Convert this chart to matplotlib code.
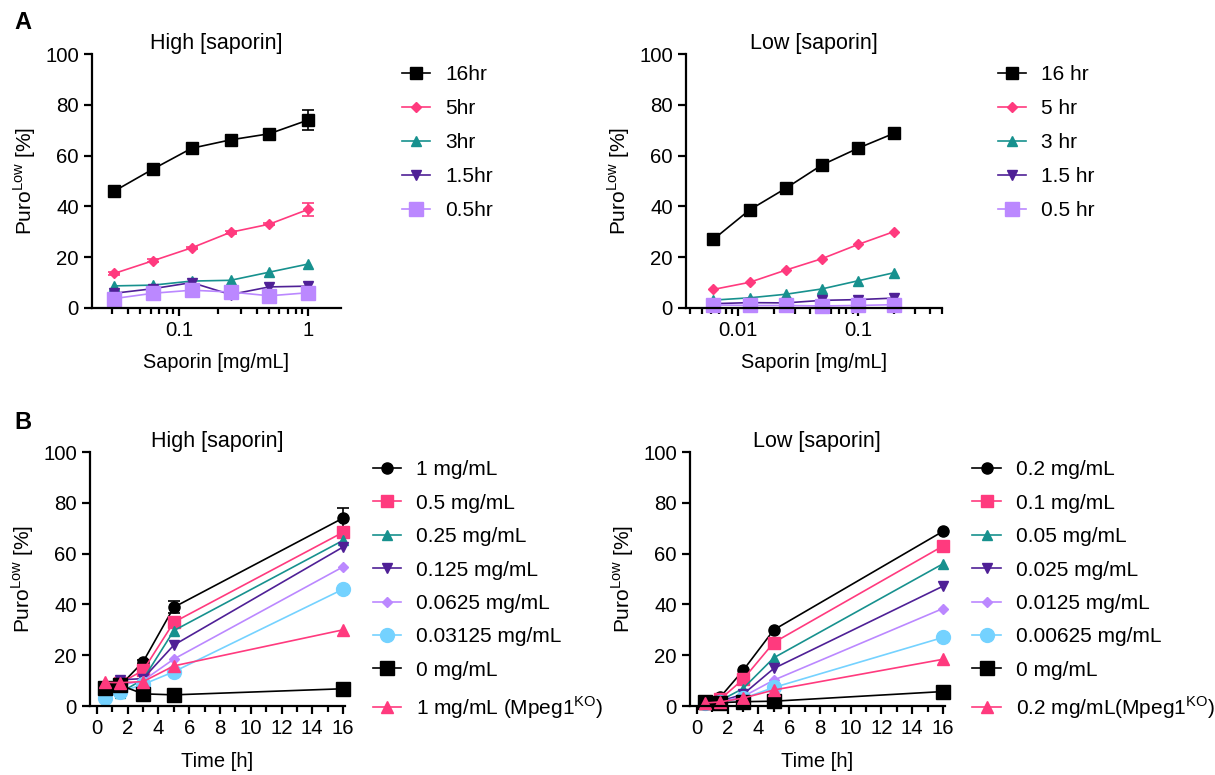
import matplotlib
matplotlib.use('Agg')
import matplotlib.pyplot as plt
from matplotlib.ticker import LogLocator, NullFormatter, FixedLocator, MultipleLocator

plt.rcParams['font.family'] = ['Liberation Sans', 'DejaVu Sans']
plt.rcParams['mathtext.fontset'] = 'custom'
plt.rcParams['mathtext.rm'] = 'Liberation Sans'
plt.rcParams['font.size'] = 15


# Panel A data: dose response per incubation time
high_dose = [0.03125, 0.0625, 0.125, 0.25, 0.5, 1]
low_dose = [0.00625, 0.0125, 0.025, 0.05, 0.1, 0.2]

high_16hr = [46.0, 54.7, 62.9, 66.2, 68.6, 74.0]
high_16hr_err = [0.8, 0.8, 0.8, 2.0, 0.8, 3.8]
high_5hr = [13.6, 18.6, 23.7, 29.8, 33.0, 38.8]
high_5hr_err = [0.5, 0.5, 0.5, 0.6, 0.5, 2.5]
high_3hr = [8.7, 9.0, 10.6, 10.9, 14.1, 17.3]
high_1_5hr = [5.8, 7.6, 10.0, 5.3, 8.3, 8.6]
high_0_5hr = [3.7, 5.8, 7.0, 6.3, 4.8, 6.0]

low_16hr = [27.0, 38.6, 47.1, 56.3, 62.9, 68.8]
low_5hr = [7.3, 10.1, 14.9, 19.4, 25.0, 30.1]
low_3hr = [3.1, 4.0, 5.4, 7.5, 10.7, 13.9]
low_1_5hr = [1.7, 2.1, 2.0, 3.0, 3.3, 3.9]
low_0_5hr = [1.2, 1.0, 1.0, 0.8, 1.0, 1.3]

# Panel B data: time course per saporin concentration
time_h = [0.5, 1.5, 3, 5, 16]

high_1 = [6.3, 8.0, 17.4, 38.9, 74.0]
high_1_err = [0.8, 0.8, 0.8, 2.4, 3.8]
high_0_5 = [5.2, 9.0, 14.0, 33.0, 68.4]
high_0_25 = [6.0, 5.2, 10.5, 29.7, 65.2]
high_0_125 = [7.2, 10.3, 10.8, 24.0, 62.6]
high_0_0625 = [6.0, 8.2, 10.0, 18.5, 54.8]
high_0_03125 = [3.3, 5.5, 8.5, 13.5, 46.0]
high_0 = [7.0, 8.2, 4.8, 4.4, 6.8]
high_ko = [9.3, 9.2, 9.6, 15.8, 30.0]

low_0_2 = [1.4, 3.4, 14.0, 30.0, 68.8]
low_0_1 = [1.3, 2.6, 10.5, 25.0, 63.0]
low_0_05 = [1.3, 2.1, 6.9, 19.0, 56.0]
low_0_025 = [1.2, 1.9, 4.6, 14.8, 47.2]
low_0_0125 = [1.2, 1.7, 3.7, 10.2, 38.4]
low_0_00625 = [1.2, 1.4, 3.0, 7.3, 27.0]
low_0 = [1.4, 1.3, 1.7, 1.9, 5.7]
low_ko = [1.2, 1.6, 3.1, 6.3, 18.4]

BLACK = '#000000'
PINK = '#ff3a7e'
TEAL = '#17918e'
PURPLE = '#4f2096'
LAVENDER = '#bb88ff'
LIGHTBLUE = '#74d2ff'

ylab = 'Puro$^{\\rm Low}$ [%]'


def style_axis(ax):
    for s in ['top', 'right']:
        ax.spines[s].set_visible(False)
    for s in ['left', 'bottom']:
        ax.spines[s].set_linewidth(1.6)
    ax.tick_params(which='major', length=6, width=1.6, labelsize=14.7)
    ax.tick_params(which='minor', length=4.5, width=1.6)
    ax.set_ylim(0, 100)
    ax.set_yticks([0, 20, 40, 60, 80, 100])
    ax.set_ylabel(ylab, fontsize=15, labelpad=5)


def plot_series(ax, x, y, color, marker, ms, label, err=None):
    if err is not None:
        ax.errorbar(x, y, yerr=err, fmt='none', ecolor=color, capsize=4,
                    elinewidth=1.2, capthick=1.2, clip_on=False)
    ax.plot(x, y, color=color, marker=marker, markersize=ms,
            linewidth=1.2, label=label, clip_on=False)


fig = plt.figure(figsize=(12.15, 7.75), dpi=100)

ax1 = fig.add_axes([0.0757, 0.6026, 0.2049, 0.3277])
ax2 = fig.add_axes([0.5646, 0.6026, 0.2107, 0.3277])
ax3 = fig.add_axes([0.0741, 0.0890, 0.2095, 0.3277])
ax4 = fig.add_axes([0.5679, 0.0890, 0.2095, 0.3277])

# Panel A, high saporin
plot_series(ax1, high_dose, high_16hr, BLACK, 's', 9, '16hr', high_16hr_err)
plot_series(ax1, high_dose, high_5hr, PINK, 'D', 5.5, '5hr', high_5hr_err)
plot_series(ax1, high_dose, high_3hr, TEAL, '^', 7, '3hr')
plot_series(ax1, high_dose, high_1_5hr, PURPLE, 'v', 7, '1.5hr')
plot_series(ax1, high_dose, high_0_5hr, LAVENDER, 's', 9.5, '0.5hr')

# Panel A, low saporin
plot_series(ax2, low_dose, low_16hr, BLACK, 's', 9, '16 hr')
plot_series(ax2, low_dose, low_5hr, PINK, 'D', 5.5, '5 hr')
plot_series(ax2, low_dose, low_3hr, TEAL, '^', 7, '3 hr')
plot_series(ax2, low_dose, low_1_5hr, PURPLE, 'v', 7, '1.5 hr')
plot_series(ax2, low_dose, low_0_5hr, LAVENDER, 's', 9.5, '0.5 hr')

for ax, lim in [(ax1, (0.021, 1.8)), (ax2, (0.0037, 0.5))]:
    ax.set_xscale('log')
    ax.set_xlim(*lim)
    ax.xaxis.set_major_locator(LogLocator(base=10))
    ax.xaxis.set_minor_locator(LogLocator(base=10, subs=range(2, 10)))
    ax.xaxis.set_minor_formatter(NullFormatter())
    ax.set_xlabel('Saporin [mg/mL]', fontsize=14.3, labelpad=9)
    style_axis(ax)
ax1.set_xticks([0.1, 1])
ax1.set_xticklabels(['0.1', '1'])
ax2.set_xticks([0.01, 0.1])
ax2.set_xticklabels(['0.01', '0.1'])

# Panel B, high saporin
plot_series(ax3, time_h, high_1, BLACK, 'o', 8, '1 mg/mL', high_1_err)
plot_series(ax3, time_h, high_0_5, PINK, 's', 8, '0.5 mg/mL')
plot_series(ax3, time_h, high_0_25, TEAL, '^', 7.5, '0.25 mg/mL')
plot_series(ax3, time_h, high_0_125, PURPLE, 'v', 7.5, '0.125 mg/mL')
plot_series(ax3, time_h, high_0_0625, LAVENDER, 'D', 5.5, '0.0625 mg/mL')
plot_series(ax3, time_h, high_0_03125, LIGHTBLUE, 'o', 10, '0.03125 mg/mL')
plot_series(ax3, time_h, high_0, BLACK, 's', 9.5, '0 mg/mL')
plot_series(ax3, time_h, high_ko, PINK, '^', 9, '1 mg/mL (Mpeg1$^{\\rm KO}$)')

# Panel B, low saporin
plot_series(ax4, time_h, low_0_2, BLACK, 'o', 8, '0.2 mg/mL')
plot_series(ax4, time_h, low_0_1, PINK, 's', 8, '0.1 mg/mL')
plot_series(ax4, time_h, low_0_05, TEAL, '^', 7.5, '0.05 mg/mL')
plot_series(ax4, time_h, low_0_025, PURPLE, 'v', 7.5, '0.025 mg/mL')
plot_series(ax4, time_h, low_0_0125, LAVENDER, 'D', 5.5, '0.0125 mg/mL')
plot_series(ax4, time_h, low_0_00625, LIGHTBLUE, 'o', 10, '0.00625 mg/mL')
plot_series(ax4, time_h, low_0, BLACK, 's', 9.5, '0 mg/mL')
plot_series(ax4, time_h, low_ko, PINK, '^', 9, '0.2 mg/mL(Mpeg1$^{\\rm KO}$)')

for ax in [ax3, ax4]:
    ax.set_xlim(-0.45, 16.1)
    ax.xaxis.set_major_locator(FixedLocator(range(0, 17, 2)))
    ax.xaxis.set_minor_locator(MultipleLocator(1))
    ax.set_xlabel('Time [h]', fontsize=14.5, labelpad=10)
    style_axis(ax)

for ax, t in [(ax1, 'High [saporin]'), (ax2, 'Low [saporin]'),
              (ax3, 'High [saporin]'), (ax4, 'Low [saporin]')]:
    ax.set_title(t, fontsize=15.5, pad=-2)

leg_kw = dict(frameon=False, fontsize=15, handlelength=1.35, handletextpad=0.72,
              labelspacing=0.72, loc='upper left', borderaxespad=0)
ax1.legend(bbox_to_anchor=(1.213, 0.99), **leg_kw)
ax2.legend(bbox_to_anchor=(1.1875, 0.99), **leg_kw)
ax3.legend(bbox_to_anchor=(1.077, 1.0), labelspacing=0.69,
           **{k: v for k, v in leg_kw.items() if k != 'labelspacing'})
ax4.legend(bbox_to_anchor=(1.077, 1.0), labelspacing=0.69,
           **{k: v for k, v in leg_kw.items() if k != 'labelspacing'})

fig.text(0.012, 0.962, 'A', fontsize=17, fontweight='bold')
fig.text(0.012, 0.446, 'B', fontsize=17, fontweight='bold')

fig.savefig('out.png', dpi=100)
